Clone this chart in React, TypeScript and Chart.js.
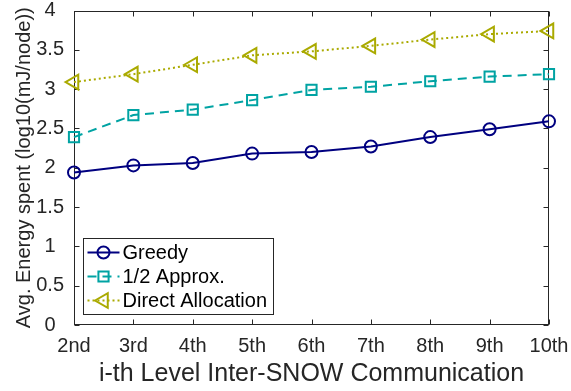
import React, { useEffect, useRef } from 'react';
import { Chart, registerables } from 'chart.js';

Chart.register(...registerables);

const categories = ['2nd', '3rd', '4th', '5th', '6th', '7th', '8th', '9th', '10th'];
const greedy = [1.94, 2.03, 2.06, 2.18, 2.2, 2.27, 2.39, 2.49, 2.59];
const approx = [2.39, 2.67, 2.74, 2.86, 2.99, 3.03, 3.1, 3.16, 3.19];
const direct = [3.09, 3.19, 3.31, 3.43, 3.48, 3.55, 3.63, 3.7, 3.74];
const seriesNames = ['Greedy', '1/2 Approx.', 'Direct Allocation'];
const yMin = 0;
const yMax = 4;
const yStep = 0.5;

const FONT = "'Liberation Sans', Arial, Helvetica, sans-serif";
const AXIS = '#262626';
const C_GREEDY = '#000080';
const C_APPROX = '#00a3a3';
const C_DIRECT = '#aaaa00';

const boxPlugin = {
  id: 'boxTicks',
  beforeDatasetsDraw(chart: any) {
    const { ctx, chartArea, scales } = chart;
    const l = Math.round(chartArea.left) + 0.5;
    const r = Math.round(chartArea.right) - 0.5;
    const t = Math.round(chartArea.top) + 0.5;
    const b = Math.round(chartArea.bottom) - 0.5;
    const tl = 5;
    ctx.save();
    ctx.strokeStyle = AXIS;
    ctx.lineWidth = 1;
    ctx.strokeRect(l, t, r - l, b - t);
    ctx.beginPath();
    const xs = scales.x;
    xs.ticks.forEach((_: any, i: number) => {
      const px = Math.round(xs.getPixelForTick(i)) + 0.5;
      ctx.moveTo(px, b);
      ctx.lineTo(px, b - tl);
      ctx.moveTo(px, t);
      ctx.lineTo(px, t + tl);
    });
    const ys = scales.y;
    ys.ticks.forEach((tk: any) => {
      const py = Math.round(ys.getPixelForValue(tk.value)) + 0.5;
      ctx.moveTo(l, py);
      ctx.lineTo(l + tl, py);
      ctx.moveTo(r, py);
      ctx.lineTo(r - tl, py);
    });
    ctx.stroke();
    ctx.restore();
  },
};

function drawMarker(ctx: CanvasRenderingContext2D, style: string, x: number, y: number, r: number) {
  ctx.beginPath();
  if (style === 'circle') {
    ctx.arc(x, y, r, 0, Math.PI * 2);
  } else if (style === 'rect') {
    const s = r * Math.SQRT1_2;
    ctx.rect(x - s, y - s, 2 * s, 2 * s);
  } else {
    let rad = -Math.PI / 2;
    ctx.moveTo(x + Math.sin(rad) * r, y - Math.cos(rad) * r);
    rad += (2 * Math.PI) / 3;
    ctx.lineTo(x + Math.sin(rad) * r, y - Math.cos(rad) * r);
    rad += (2 * Math.PI) / 3;
    ctx.lineTo(x + Math.sin(rad) * r, y - Math.cos(rad) * r);
    ctx.closePath();
  }
  ctx.stroke();
}

const legendPlugin = {
  id: 'matlabLegend',
  afterDatasetsDraw(chart: any) {
    const { ctx, chartArea } = chart;
    const bx = Math.round(chartArea.left) + 9.5;
    const bw = 190;
    const bh = 76;
    const by = Math.round(chartArea.bottom) - 10.5 - bh;
    ctx.save();
    ctx.fillStyle = '#ffffff';
    ctx.fillRect(bx, by, bw, bh);
    ctx.strokeStyle = AXIS;
    ctx.lineWidth = 1;
    ctx.strokeRect(bx, by, bw, bh);
    const rowH = 24;
    chart.data.datasets.forEach((ds: any, i: number) => {
      const cy = by + 14 + i * rowH;
      ctx.strokeStyle = ds.borderColor;
      ctx.lineWidth = ds.borderWidth;
      ctx.setLineDash(ds.borderDash || []);
      ctx.beginPath();
      ctx.moveTo(bx + 4, cy);
      ctx.lineTo(bx + 36, cy);
      ctx.stroke();
      ctx.setLineDash([]);
      ctx.lineWidth = ds.pointBorderWidth;
      drawMarker(ctx, ds.pointStyle, bx + 20, cy, ds.pointRadius);
      ctx.fillStyle = '#000000';
      ctx.font = `20px ${FONT}`;
      ctx.textAlign = 'left';
      ctx.textBaseline = 'middle';
      ctx.fillText(ds.label, bx + 39, cy + 1);
    });
    ctx.restore();
  },
};

const zeroPad = (s: any) => {
  s.paddingTop = 0;
  s.paddingBottom = 0;
  s.paddingLeft = 0;
  s.paddingRight = 0;
};

export default function App() {
  const ref = useRef<HTMLCanvasElement | null>(null);
  useEffect(() => {
    if (!ref.current) return;
    const chart = new Chart(ref.current, {
      type: 'line',
      data: {
        labels: categories,
        datasets: [
          {
            label: seriesNames[0],
            data: greedy,
            borderColor: C_GREEDY,
            borderWidth: 2,
            pointStyle: 'circle',
            pointRadius: 6,
            pointBorderWidth: 2,
            pointBackgroundColor: 'rgba(0,0,0,0)',
            pointBorderColor: C_GREEDY,
            fill: false,
            tension: 0,
            clip: false as any,
          },
          {
            label: seriesNames[1],
            data: approx,
            borderColor: C_APPROX,
            borderWidth: 2,
            borderDash: [9, 6],
            pointStyle: 'rect',
            pointRadius: 7.2,
            pointBorderWidth: 2,
            pointBackgroundColor: 'rgba(0,0,0,0)',
            pointBorderColor: C_APPROX,
            fill: false,
            tension: 0,
            clip: false as any,
          },
          {
            label: seriesNames[2],
            data: direct,
            borderColor: C_DIRECT,
            borderWidth: 2,
            borderDash: [2, 3],
            pointStyle: 'triangle',
            pointRotation: -90,
            pointRadius: 8.5,
            pointBorderWidth: 2,
            pointBackgroundColor: 'rgba(0,0,0,0)',
            pointBorderColor: C_DIRECT,
            fill: false,
            tension: 0,
            clip: false as any,
          },
        ],
      },
      options: {
        responsive: false,
        animation: false,
        layout: { padding: { top: 9, right: 22, left: 0, bottom: 0 } },
        plugins: {
          legend: { display: false },
          tooltip: { enabled: false },
        },
        scales: {
          x: {
            type: 'category',
            offset: false,
            grid: { display: false, drawTicks: false },
            border: { display: false },
            ticks: {
              color: AXIS,
              font: { family: FONT, size: 20 },
              padding: 9,
              maxRotation: 0,
              autoSkip: false,
            },
            title: {
              display: true,
              text: 'i-th Level Inter-SNOW Communication',
              color: AXIS,
              font: { family: FONT, size: 25 },
              padding: { top: 0, bottom: 2 },
            },
            afterFit: (s: any) => {
              s.height = 66;
              zeroPad(s);
            },
          },
          y: {
            type: 'linear',
            min: yMin,
            max: yMax,
            grid: { display: false, drawTicks: false },
            border: { display: false },
            ticks: {
              stepSize: yStep,
              color: AXIS,
              font: { family: FONT, size: 20 },
              padding: 10,
              crossAlign: 'center',
              callback: (v: any) => String(Number(v)),
            },
            title: {
              display: true,
              text: 'Avg. Energy spent (log10(mJ/node))',
              color: AXIS,
              font: { family: FONT, size: 20 },
              padding: { top: 12, bottom: 0 },
            },
            afterFit: (s: any) => {
              s.width = 74;
              zeroPad(s);
            },
          },
        },
      },
      plugins: [boxPlugin, legendPlugin],
    });
    return () => chart.destroy();
  }, []);
  return (
    <div style={{ position: 'absolute', left: 0, top: 0, width: 571, height: 391, background: '#fff' }}>
      <canvas ref={ref} width={571} height={391} style={{ display: 'block' }} />
    </div>
  );
}
